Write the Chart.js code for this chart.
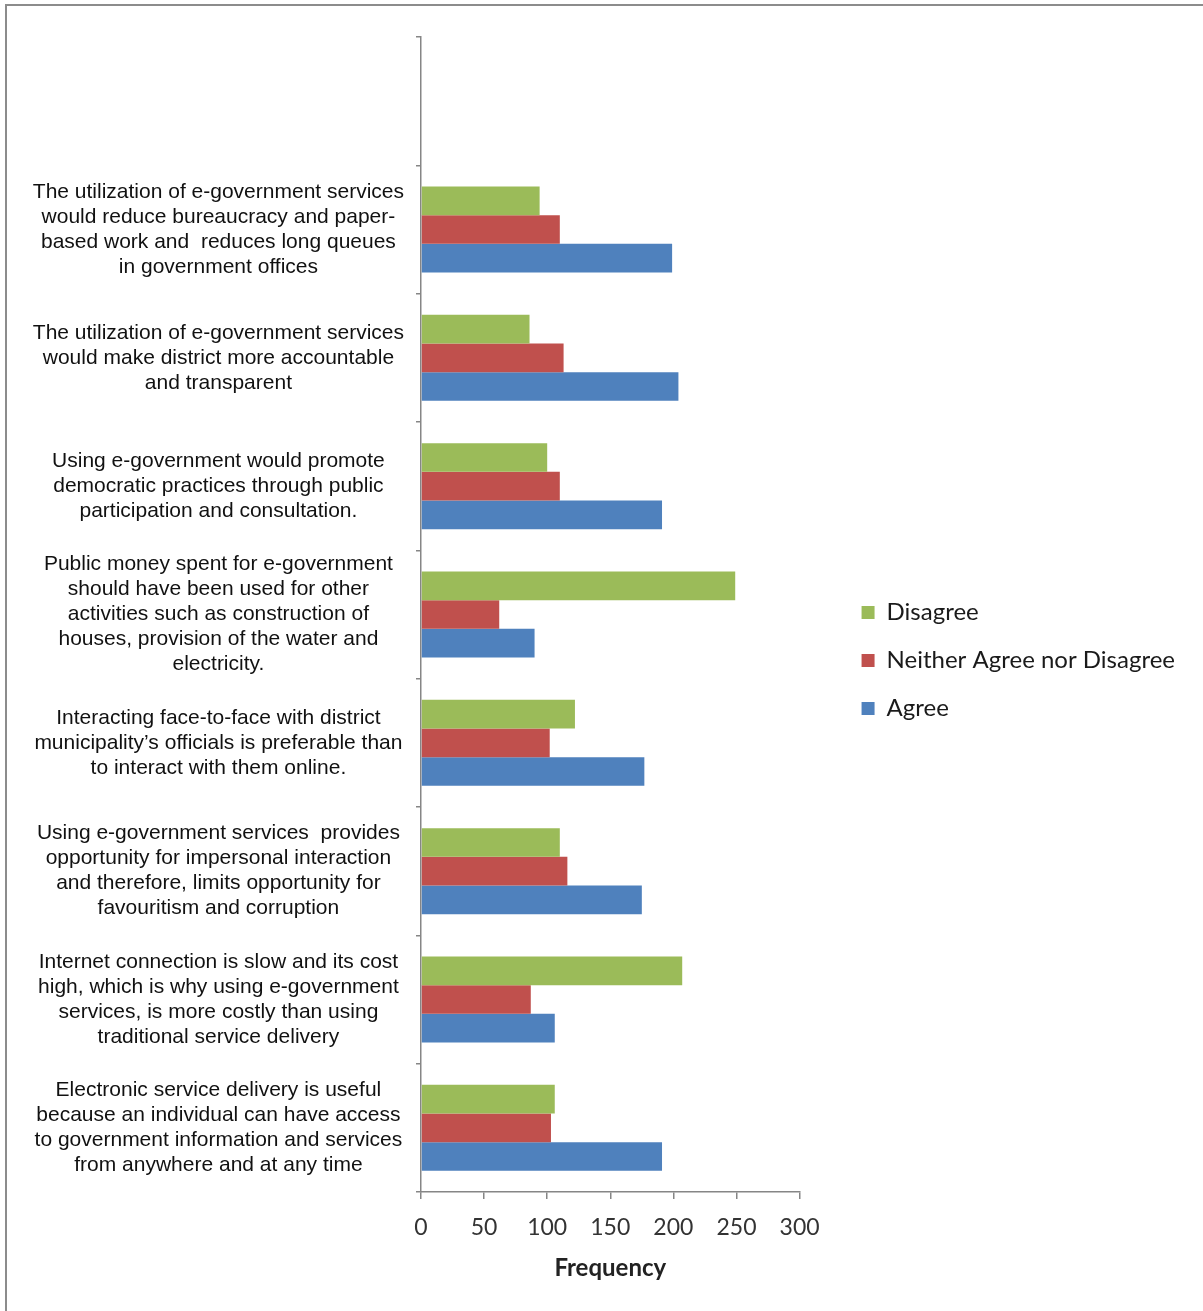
<!DOCTYPE html>
<html>
<head>
<meta charset="utf-8">
<script src="https://cdn.jsdelivr.net/npm/chart.js@4.4.1/dist/chart.umd.min.js"></script>
<style>
  html, body { margin: 0; padding: 0; background: #fff; overflow: hidden; }
  #frame { position: absolute; left: 5px; top: 4px; width: 1300px; height: 1400px; border: 2px solid #8c8c8c; }
  #wrap { position: absolute; left: 0; top: 0; width: 1203px; height: 1311px; }
</style>
</head>
<body>
<div id="frame"></div>
<div id="wrap"><canvas id="bar_chart"></canvas></div>
<script>
// categories, top to bottom (first row of the axis is empty)
var categories = [
  [""],
  ["The utilization of e-government services", "would reduce bureaucracy and paper-", "based work and  reduces long queues", "in government offices"],
  ["The utilization of e-government services", "would make district more accountable", "and transparent"],
  ["Using e-government would promote", "democratic practices through public", "participation and consultation."],
  ["Public money spent for e-government", "should have been used for other", "activities such as construction of", "houses, provision of the water and", "electricity."],
  ["Interacting face-to-face with district", "municipality\u2019s officials is preferable than", "to interact with them online."],
  ["Using e-government services  provides", "opportunity for impersonal interaction", "and therefore, limits opportunity for", "favouritism and corruption"],
  ["Internet connection is slow and its cost", "high, which is why using e-government", "services, is more costly than using", "traditional service delivery"],
  ["Electronic service delivery is useful", "because an individual can have access", "to government information and services", "from anywhere and at any time"]
];

var disagree = [null, 94, 86, 100, 249, 122, 110, 207, 106];
var neither  = [null, 110, 113, 110, 62, 102, 116, 87, 103];
var agree    = [null, 199, 204, 191, 90, 177, 175, 106, 191];

var xTicks = [0, 50, 100, 150, 200, 250, 300];

var axisGrey = '#868686';

var ctxBar = document.getElementById('bar_chart').getContext('2d');
var chart = new Chart(ctxBar, {
    type: 'bar',
    data: {
        labels: categories,
        datasets: [
            { label: "Disagree", backgroundColor: '#9BBB59', data: disagree },
            { label: "Neither Agree nor Disagree", backgroundColor: '#C0504D', data: neither },
            { label: "Agree", backgroundColor: '#4F81BD', data: agree }
        ]
    },
    options: {
        indexAxis: 'y',
        responsive: true,
        maintainAspectRatio: false,
        animation: false,
        categoryPercentage: 0.67,
        barPercentage: 1.0,
        layout: { padding: { left: 28, top: 37, right: 18, bottom: 27 } },
        plugins: {
            tooltip: { enabled: false },
            legend: {
                position: 'right',
                align: 'center',
                maxWidth: 400,
                labels: {
                    boxWidth: 13,
                    boxHeight: 13,
                    padding: 24,
                    color: '#1a1a1a',
                    font: { family: 'Lato', size: 24 }
                }
            }
        },
        scales: {
            y: {
                afterFit: function (axis) {
                    axis.width = 393;
                    // the tall labels should not push the plot down
                    axis.paddingTop = 0;
                    axis.paddingBottom = 0;
                },
                grid: { display: true, drawOnChartArea: false, tickLength: 5, color: axisGrey, lineWidth: 1.5 },
                border: { color: axisGrey, width: 1.5 },
                ticks: {
                    autoSkip: false,
                    crossAlign: 'center',
                    padding: 12,
                    color: '#111',
                    font: { family: 'Liberation Sans', size: 21, lineHeight: '25px' }
                }
            },
            // empty spacer between the plot and the legend
            gap: {
                type: 'linear',
                position: 'right',
                afterFit: function (axis) { axis.width = 38; },
                grid: { display: false },
                border: { display: false },
                ticks: { display: false }
            },
            x: {
                min: 0,
                max: 300,
                afterBuildTicks: function (axis) {
                    axis.ticks = xTicks.map(function (v) { return { value: v }; });
                },
                grid: { display: true, drawOnChartArea: false, tickLength: 7, color: axisGrey, lineWidth: 1.5 },
                border: { color: axisGrey, width: 1.5 },
                ticks: {
                    padding: 17,
                    color: '#333',
                    font: { family: 'Lato', size: 23, lineHeight: 1.0 }
                },
                title: {
                    display: true,
                    text: 'Frequency',
                    color: '#222',
                    padding: { top: 0 },
                    font: { family: 'Lato', size: 24, weight: 'bold', lineHeight: 1.0 }
                }
            }
        }
    }
});
</script>
</body>
</html>
